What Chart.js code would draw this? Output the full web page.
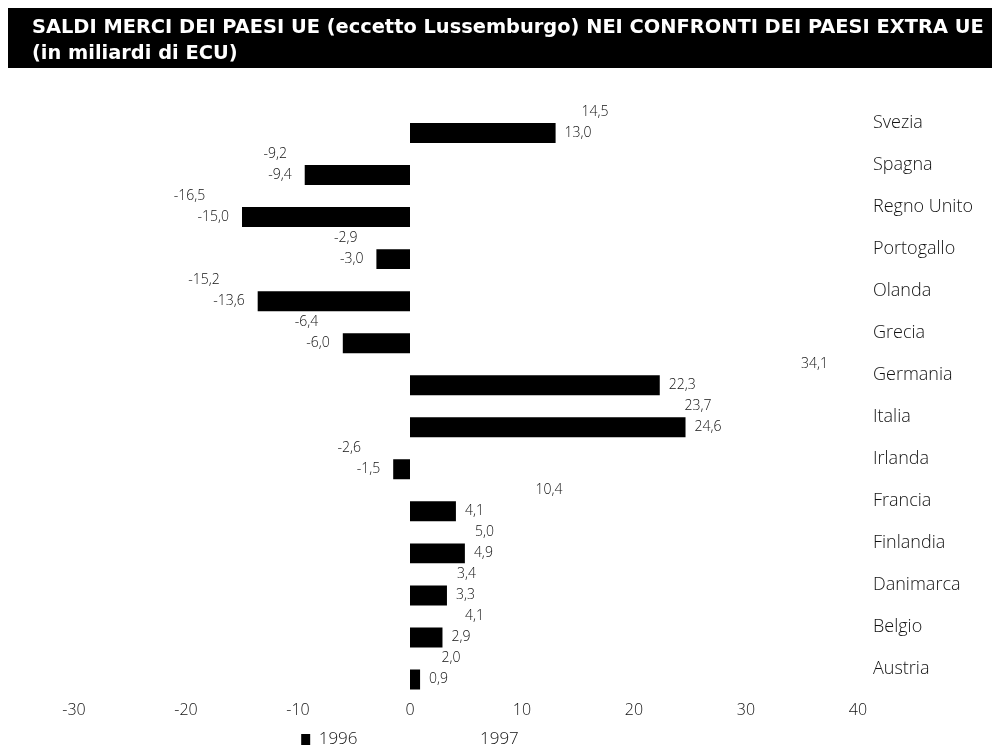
<!DOCTYPE html>
<html>
<head>
<meta charset="utf-8">
<script src="https://cdn.jsdelivr.net/npm/chart.js@4/dist/chart.umd.min.js"></script>
<style>
  html, body { margin: 0; padding: 0; background: #fff; }
</style>
</head>
<body>
<canvas id="grafico" width="992" height="751"></canvas>
<script>
// dati (miliardi di ECU)
const paesi = ['Svezia', 'Spagna', 'Regno Unito', 'Portogallo', 'Olanda', 'Grecia', 'Germania',
               'Italia', 'Irlanda', 'Francia', 'Finlandia', 'Danimarca', 'Belgio', 'Austria'];
const saldi1997 = [14.5, -9.2, -16.5, -2.9, -15.2, -6.4, 34.1, 23.7, -2.6, 10.4, 5.0, 3.4, 4.1, 2.0];
const saldi1996 = [13.0, -9.4, -15.0, -3.0, -13.6, -6.0, 22.3, 24.6, -1.5, 4.1, 4.9, 3.3, 2.9, 0.9];
const asseMin = -30;
const asseMax = 40;
const passo = 10;
const titolo = [
    'SALDI MERCI DEI PAESI UE (eccetto Lussemburgo) NEI CONFRONTI DEI PAESI EXTRA UE',
    '(in miliardi di ECU)'
];

Chart.defaults.font.family = '"Open Sans", sans-serif';
Chart.defaults.color = '#111';

const virgola = v => v.toFixed(1).replace('.', ',');

// distanza etichetta-barra per serie: [negativi, positivi]
const scarto = [[20, 9], [13, 9]];

// valori scritti in fondo alle barre
const etichette = {
    id: 'etichette',
    afterDatasetsDraw(chart) {
        const ctx = chart.ctx;
        ctx.save();
        ctx.font = '300 14px "Open Sans"';
        ctx.fillStyle = '#111';
        ctx.textBaseline = 'middle';
        chart.data.datasets.forEach((ds, i) => {
            chart.getDatasetMeta(i).data.forEach((bar, j) => {
                const v = ds.data[j];
                const neg = v < 0;
                ctx.textAlign = neg ? 'right' : 'left';
                ctx.fillText(virgola(v), bar.x + (neg ? -scarto[i][0] : scarto[i][1]), bar.y);
            });
        });
        ctx.restore();
    }
};

// fascia nera dietro al titolo, legenda centrata sotto lo zero
const fascia = {
    id: 'fascia',
    beforeDraw(chart) {
        const t = chart.titleBlock;
        const ctx = chart.ctx;
        ctx.save();
        ctx.fillStyle = '#000';
        ctx.fillRect(t.left - 24, t.top + 8, chart.width - t.left + 24, 60);
        ctx.restore();
    },
    afterLayout(chart) {
        const lg = chart.legend;
        const zero = chart.scales.x.getPixelForValue(0);
        const meta = (lg.right - lg.left) / 2;
        lg.left = zero - meta;
        lg.right = zero + meta;
    }
};

const vuoto = () => ({
    text: '', fillStyle: 'rgba(0,0,0,0)', strokeStyle: 'rgba(0,0,0,0)',
    lineWidth: 0, hidden: false, datasetIndex: null
});

new Chart(document.getElementById('grafico'), {
    type: 'bar',
    data: {
        labels: paesi,
        datasets: [
            {
                label: '1997',
                data: saldi1997,
                backgroundColor: 'rgba(0,0,0,0)',
                borderColor: 'rgba(0,0,0,0)',
                borderWidth: 0
            },
            {
                label: '1996',
                data: saldi1996,
                backgroundColor: '#000',
                borderColor: '#000',
                borderWidth: 0
            }
        ]
    },
    options: {
        indexAxis: 'y',
        responsive: false,
        animation: false,
        barPercentage: 0.95,
        categoryPercentage: 1.0,
        layout: { padding: { left: 32, right: 0, top: 0, bottom: 0 } },
        scales: {
            x: {
                min: asseMin,
                max: asseMax,
                grid: { display: false, drawTicks: false },
                border: { display: false },
                ticks: {
                    stepSize: passo,
                    padding: 12.5,
                    font: { size: 16, weight: '300', lineHeight: 1 },
                    color: '#111'
                },
                afterFit(s) { s.paddingLeft = 74; }
            },
            y: {
                position: 'right',
                grid: { display: false, drawTicks: false },
                border: { display: false },
                ticks: {
                    padding: 15,
                    font: { size: 18, weight: '300' },
                    color: '#111'
                },
                afterFit(s) { s.width = 134; }
            }
        },
        plugins: {
            title: {
                display: true,
                text: titolo,
                align: 'start',
                color: '#fff',
                font: { family: '"DejaVu Sans", sans-serif', size: 19.4, weight: 'bold', lineHeight: 1.34 },
                padding: { top: 15, bottom: 34.5 }
            },
            legend: {
                position: 'bottom',
                maxHeight: 20,
                labels: {
                    boxWidth: 9,
                    boxHeight: 11,
                    padding: 0,
                    font: { size: 17, weight: '300' },
                    color: '#111',
                    generateLabels(chart) {
                        const base = Chart.defaults.plugins.legend.labels.generateLabels(chart);
                        const l96 = base.find(it => it.text === '1996');
                        const l97 = base.find(it => it.text === '1997');
                        return [l96, vuoto(), vuoto(), vuoto(), vuoto(), vuoto(), vuoto(), l97];
                    }
                }
            },
            tooltip: { enabled: false }
        }
    },
    plugins: [fascia, etichette]
});
</script>
</body>
</html>
